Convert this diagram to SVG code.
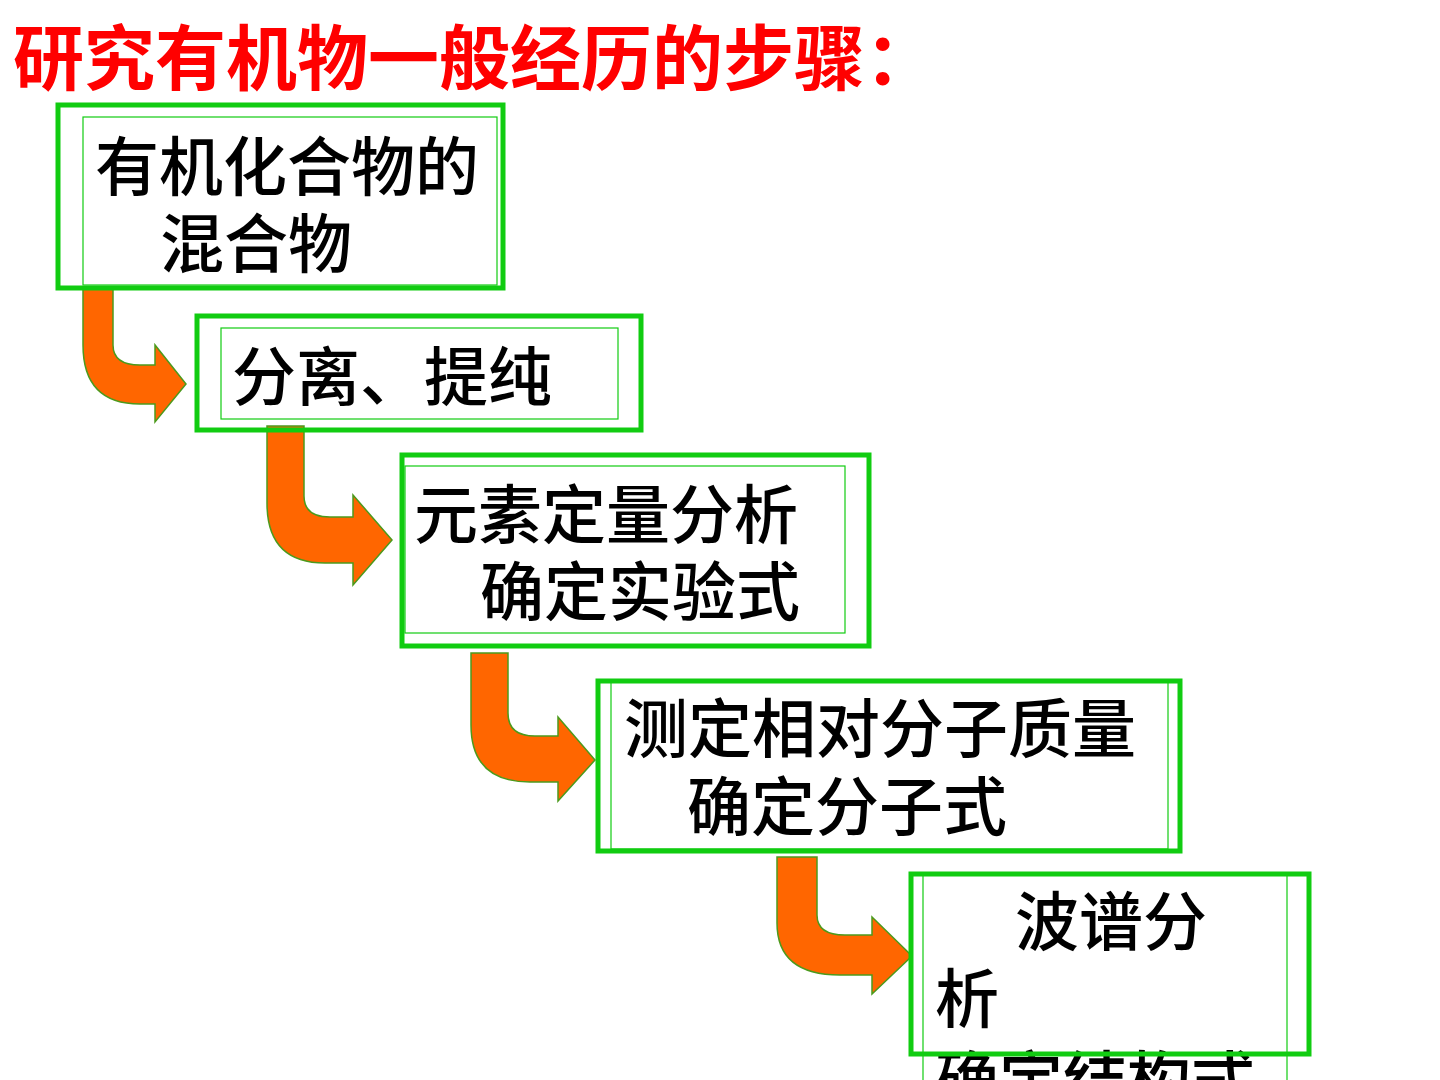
<svg xmlns="http://www.w3.org/2000/svg" width="1440" height="1080" viewBox="0 0 1440 1080">
<style>
.outer{fill:none;stroke:#11CC11;stroke-width:5}
.inner{fill:none;stroke:#11CC11;stroke-width:1.2}
.txt{font-family:"Noto Sans CJK SC","Noto Sans CJK JP",sans-serif;font-size:64px;font-weight:500;fill:#000}
.title{font-family:"Noto Sans CJK SC","Noto Sans CJK JP",sans-serif;font-size:71px;font-weight:700;fill:#FF0000}
.arrow{fill:#FF6600;stroke:#4C9A1C;stroke-width:1.5;stroke-linejoin:miter}
</style>
<rect width="1440" height="1080" fill="#FFFFFF"/>
<text class="title" x="13" y="84">研究有机物一般经历的步骤：</text>

<g id="connectors">
<path class="arrow" d="M83 288 L113 288 L113 345 Q113 365 140 365 L155 365 L155 345 L186 384 L155 422 L155 404 L140 404 Q83 404 83 345 Z"/>
<path class="arrow" d="M267 426 L304 426 L304 496 Q304 517 330 517 L353 517 L353 495 L392 540 L353 585 L353 563 L325 563 Q267 563 267 503 Z"/>
<path class="arrow" d="M471 653 L508 653 L508 713 Q508 736 535 736 L558 736 L558 717 L595 760 L558 801 L558 782 L530 782 Q471 782 471 725 Z"/>
<path class="arrow" d="M777 857 L817 857 L817 915 Q817 935 845 935 L872 935 L872 917 L912 956 L872 994 L872 975 L840 975 Q777 975 777 923 Z"/>
</g>

<g id="node1">
<rect class="outer" x="58" y="105" width="445" height="183"/>
<rect class="inner" x="83" y="117" width="414" height="168"/>
<text class="txt" x="95" y="190">有机化合物的</text>
<text class="txt" x="160" y="267">混合物</text>
</g>

<g id="node2">
<rect class="outer" x="197" y="316" width="444" height="114"/>
<rect class="inner" x="221" y="328" width="397" height="91"/>
<text class="txt" x="232" y="400">分离、提纯</text>
</g>

<g id="node3">
<rect class="outer" x="402" y="455" width="467" height="191"/>
<rect class="inner" x="405" y="466" width="440" height="167"/>
<text class="txt" x="414" y="538">元素定量分析</text>
<text class="txt" x="480" y="615">确定实验式</text>
</g>

<g id="node4">
<rect class="outer" x="598" y="681" width="582" height="170"/>
<rect class="inner" x="611" y="682" width="557" height="167"/>
<text class="txt" x="624" y="752">测定相对分子质量</text>
<text class="txt" x="687" y="830">确定分子式</text>
</g>

<g id="node5">
<rect class="inner" x="923" y="875" width="364" height="260"/>
<text class="txt" x="1015" y="945">波谱分</text>
<text class="txt" x="935" y="1022">析</text>
<text class="txt" x="935" y="1104">确定结构式</text>
<rect class="outer" x="911" y="874" width="398" height="180"/>
</g>
</svg>
